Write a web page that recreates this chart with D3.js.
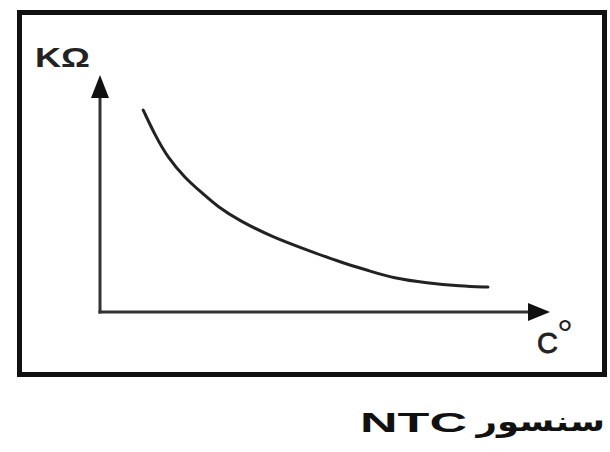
<!DOCTYPE html>
<html><head><meta charset="utf-8">
<script src="https://cdn.jsdelivr.net/npm/d3@7"></script>
<style>html,body{margin:0;padding:0;background:#fff;}svg{display:block;}</style>
</head><body>
<script>
const temperature = [9.6, 12.2, 15.1, 18.9, 22.7, 26.2, 31.1, 38.4, 46.0, 53.3, 60.0, 65.1, 72.7, 80.0, 86.2];
const resistance  = [85.2, 74.7, 65.0, 56.5, 50.2, 44.3, 38.4, 31.6, 26.2, 21.1, 17.3, 14.3, 12.2, 11.0, 10.5];
const yLabel = "KΩ";
const xLabel = "C";
const degree = "°";
const titleLatin = "NTC";
const titlePersian = "سنسور";

const W = 610, H = 452;
const svg = d3.select("body").append("svg").attr("width", W).attr("height", H);

const x = d3.scaleLinear().domain([0, 100]).range([100, 550]);
const y = d3.scaleLinear().domain([0, 100]).range([312, 75]);

// frame
svg.append("rect").attr("x", 19.5).attr("y", 12.5).attr("width", 585).attr("height", 362)
  .attr("fill", "none").attr("stroke", "#111").attr("stroke-width", 5);

const axisColor = "#333";
// y axis
svg.append("line").attr("x1", x(0)).attr("y1", y(0) + 1.5).attr("x2", x(0)).attr("y2", y(100) + 20)
  .attr("stroke", axisColor).attr("stroke-width", 3);
svg.append("path")
  .attr("d", `M${x(0)},${y(100)} L${x(0) - 9},${y(100) + 23} L${x(0) + 9},${y(100) + 23} Z`)
  .attr("fill", "#111");
// x axis
svg.append("line").attr("x1", x(0) - 1.5).attr("y1", y(0)).attr("x2", x(100) - 20).attr("y2", y(0))
  .attr("stroke", axisColor).attr("stroke-width", 3);
svg.append("path")
  .attr("d", `M${x(100)},${y(0)} L${x(100) - 22},${y(0) - 9} L${x(100) - 22},${y(0) + 9} Z`)
  .attr("fill", "#111");

// curve
const pts = temperature.map((t, i) => [t, resistance[i]]);
svg.append("path").datum(pts)
  .attr("d", d3.line().x(d => x(d[0])).y(d => y(d[1])).curve(d3.curveBasis))
  .attr("fill", "none").attr("stroke", "#222").attr("stroke-width", 3).attr("stroke-linecap", "round");

// labels
svg.append("text").attr("x", 35).attr("y", 67).text(yLabel)
  .attr("font-family", "Liberation Sans, Arial, sans-serif").attr("font-weight", "bold")
  .attr("font-size", 27).attr("fill", "#222")
  .attr("textLength", 55).attr("lengthAdjust", "spacingAndGlyphs");

svg.append("text").attr("x", 537).attr("y", 353).text(xLabel)
  .attr("font-family", "Liberation Sans, Arial, sans-serif")
  .attr("font-size", 29).attr("fill", "#222").attr("stroke", "#222").attr("stroke-width", 0.8);
svg.append("text").attr("x", 557).attr("y", 348).text(degree)
  .attr("font-family", "Liberation Sans, Arial, sans-serif")
  .attr("font-size", 40).attr("fill", "#222");

// title
svg.append("text").attr("x", 360).attr("y", 432).text(titleLatin)
  .attr("font-family", "Liberation Sans, Arial, sans-serif").attr("font-weight", "bold")
  .attr("font-size", 28).attr("fill", "#111")
  .attr("textLength", 107).attr("lengthAdjust", "spacingAndGlyphs");
const pg = svg.append("g");
const pt = pg.append("text").attr("x", 0).attr("y", 0).text(titlePersian)
  .attr("font-family", "DejaVu Sans, Noto Sans, sans-serif").attr("font-weight", "bold")
  .attr("font-size", 28).attr("fill", "#111");
const bb = pt.node().getBBox();
const sx = 131 / bb.width;
pg.attr("transform", `translate(${474 - bb.x * sx},431) scale(${sx},1)`);
</script>
</body></html>
